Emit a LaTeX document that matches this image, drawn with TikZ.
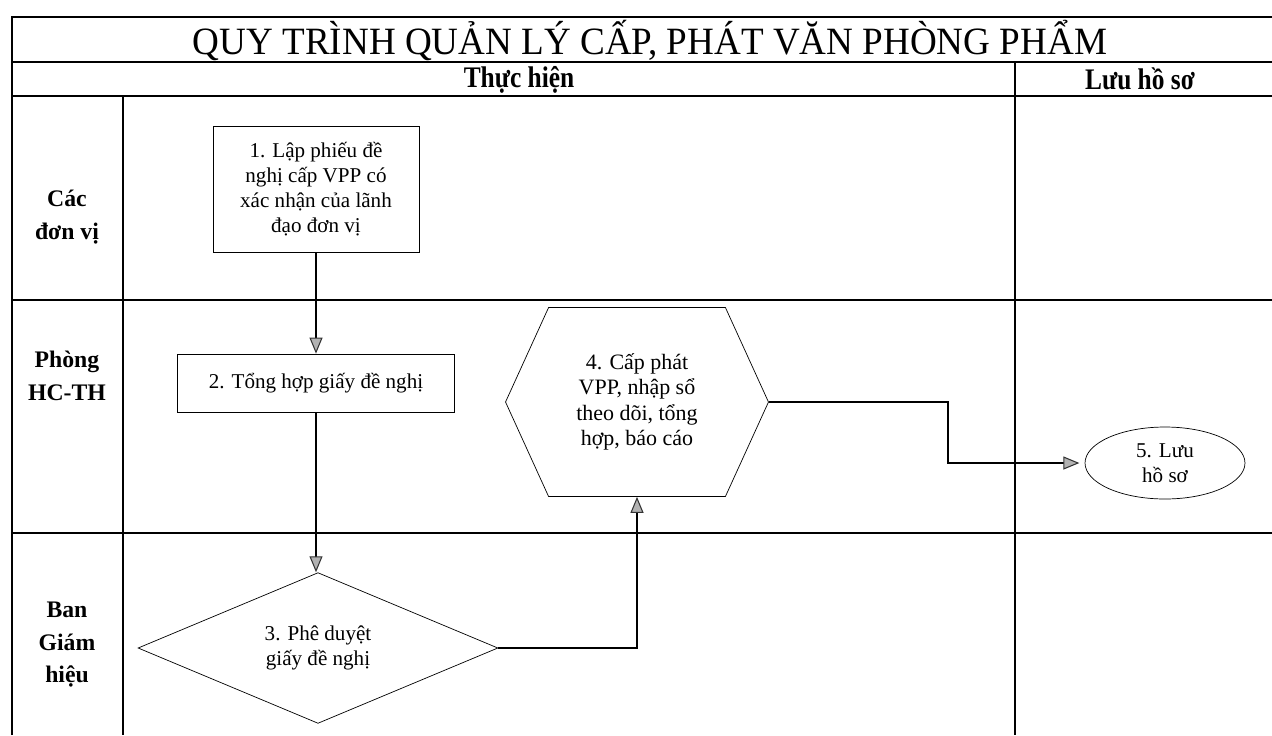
\documentclass[tikz,border=0pt]{standalone}
\usepackage{fontspec}
\setmainfont{Liberation Serif}
\newfontfamily\narrowfont[FakeStretch=0.85]{Liberation Serif}
\newfontfamily\titlefont[FakeStretch=0.96]{Liberation Serif}
\usetikzlibrary{shapes.geometric,shapes.symbols,arrows.meta,positioning}

\begin{document}
\begin{tikzpicture}[
    x=0.02cm, y=-0.02cm,
    gridline/.style={line width=0.6pt},
    title/.style={font=\titlefont\fontsize{22}{24}\selectfont},
    header/.style={font=\narrowfont\fontsize{17}{20}\selectfont\bfseries},
    lane/.style={align=center, font=\fontsize{13.5}{18.5}\selectfont\bfseries},
    stepbox/.style={rectangle, draw, align=center, font=\fontsize{12}{14.2}\selectfont, inner sep=0pt},
    decision/.style={diamond, draw, align=center, font=\fontsize{12}{14.2}\selectfont, inner sep=0pt, minimum width=7.2cm, minimum height=2.86cm},
    task/.style={signal, signal to=east and west, signal pointer angle=131, draw, align=center, font=\fontsize{12.5}{14.5}\selectfont, inner sep=0pt, minimum width=5.26cm, minimum height=3.78cm},
    archive/.style={ellipse, draw, align=center, font=\fontsize{12}{14.2}\selectfont, inner sep=0pt, minimum width=3.2cm, minimum height=1.44cm},
    arrow/.style={line width=0.6pt, -{Triangle[length=3.2mm, width=2.6mm, fill=gray!60, color=black!80]}}
]
\useasboundingbox (0,0) rectangle (1272,735);

% Table frame
\draw[gridline] (12,735) -- (12,17) -- (1272,17);
\draw[gridline] (12,62) -- (1272,62);
\draw[gridline] (12,96) -- (1272,96);
\draw[gridline] (12,300) -- (1272,300);
\draw[gridline] (12,533) -- (1272,533);
\draw[gridline] (123,96) -- (123,735);
\draw[gridline] (1015,62) -- (1015,735);

% Headings
\node[title] (heading) at (650,40) {QUY TRÌNH QUẢN LÝ CẤP, PHÁT VĂN PHÒNG PHẨM};
\node[header] (doing) at (519,80) {Thực hiện};
\node[header] (keeping) at (1140,79) {Lưu hồ sơ};

% Lanes
\node[lane] (units) at (67,217) {Các\\đơn vị};
\node[lane] (office) at (67,376) {Phòng\\HC-TH};
\node[lane] (board) at (67,645) {Ban\\Giám\\hiệu};

% Steps
\node[stepbox, minimum width=4.12cm, minimum height=2.52cm] (request) at (316,189) {1. Lập phiếu đề\\nghị cấp VPP có\\xác nhận của lãnh\\đạo đơn vị};
\node[stepbox, minimum width=5.54cm, minimum height=1.16cm] (collect) at (316,383) {2. Tổng hợp giấy đề nghị};
\node[decision] (approve) at (318,648) {3. Phê duyệt\\giấy đề nghị};
\node[task] (issue) at (637,402) {4. Cấp phát\\VPP, nhập sổ\\theo dõi, tổng\\hợp, báo cáo};
\node[archive] (store) at (1165,463) {5. Lưu\\hồ sơ};
\coordinate (bend) at (948,430);

% Flow
\draw[arrow] (request.south) -- (request.south |- collect.north);
\draw[arrow] (collect.south) -- (collect.south |- approve.north);
\draw[arrow] (approve.east) -| (issue.south);
\draw[arrow, shorten >=3pt] (issue.east) -| (bend) |- (store.west);

\end{tikzpicture}
\end{document}
